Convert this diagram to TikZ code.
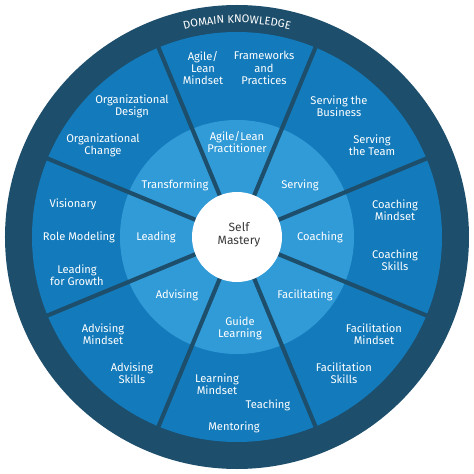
\documentclass[tikz,border=0pt]{standalone}
\usepackage{fontspec}
\setsansfont{Fira Sans}
\usetikzlibrary{decorations.text}

\definecolor{ringdark}{HTML}{1D4E6B}
\definecolor{outerblue}{HTML}{137ABB}
\definecolor{innerblue}{HTML}{319BD8}
\definecolor{coretext}{HTML}{3A3A3A}

\begin{document}
\begin{tikzpicture}[x=0.211mm, y=0.211mm,
% Node styles
 wheeltext/.style={font=\sffamily\fontsize{6.7}{7.3}\selectfont, text=white,
 align=center, inner sep=0pt},
 outer/.style={wheeltext},
 inner/.style={wheeltext},
 core/.style={wheeltext, text=coretext, font=\sffamily\fontsize{7.2}{7.8}\selectfont},
% Shape styles
 divider/.style={draw=ringdark, line width=2.5pt}
]
\useasboundingbox (-237,-237) rectangle (237,237);

% rings
\fill[ringdark] (0,0) circle[radius=232];
\fill[outerblue] (0,0) circle[radius=205];
\fill[innerblue] (0,0) circle[radius=117];

\foreach \a in {22.5,67.5,...,337.5}
 \draw[divider] (\a:40) -- (\a:206);

\fill[white] (0,0) circle[radius=45];

\path[decorate, decoration={text along path, text align=center, text color=white,
 text={|\sffamily\fontsize{6.7}{7}\selectfont|DOMAIN KNOWLEDGE}}]
 (150:214) arc[start angle=150, end angle=30, radius=214];

\node[core] (self) at (2,2) {Self\\Mastery};

% middle ring
\node[inner] (practitioner) at (0,95) {Agile/Lean\\Practitioner};
\node[inner] (serving) at (63,52) {Serving};
\node[inner] (coaching) at (83,0) {Coaching};
\node[inner] (facilitating) at (68,-58) {Facilitating};
\node[inner] (guide) at (3,-91) {Guide\\Learning};
\node[inner] (advising) at (-60,-58) {Advising};
\node[inner] (leading) at (-81,0) {Leading};
\node[inner] (transforming) at (-62,52) {Transforming};

% outer ring
\node[outer] (agilemindset) at (-34,169) {Agile/\\Lean\\Mindset};
\node[outer] (frameworks) at (27,169) {Frameworks\\and\\Practices};
\node[outer] (servbusiness) at (102,131) {Serving the\\Business};
\node[outer] (servteam) at (135,92) {Serving\\the Team};
\node[outer] (coachmindset) at (158,27) {Coaching\\Mindset};
\node[outer] (coachskills) at (158,-23) {Coaching\\Skills};
\node[outer] (facmindset) at (137,-97) {Facilitation\\Mindset};
\node[outer] (facskills) at (107,-136) {Facilitation\\Skills};
\node[outer] (teaching) at (31,-168) {Teaching};
\node[outer] (mentoring) at (-3,-190) {Mentoring};
\node[outer] (learnmindset) at (-20,-147) {Learning\\Mindset};
\node[outer] (advskills) at (-105,-136) {Advising\\Skills};
\node[outer] (advmindset) at (-134,-97) {Advising\\Mindset};
\node[outer] (growth) at (-160,-38) {Leading\\for Growth};
\node[outer] (rolemodel) at (-158,0) {Role Modeling};
\node[outer] (visionary) at (-164,33) {Visionary};
\node[outer] (orgchange) at (-134,92) {Organizational\\Change};
\node[outer] (orgdesign) at (-105,131) {Organizational\\Design};

\end{tikzpicture}
\end{document}
